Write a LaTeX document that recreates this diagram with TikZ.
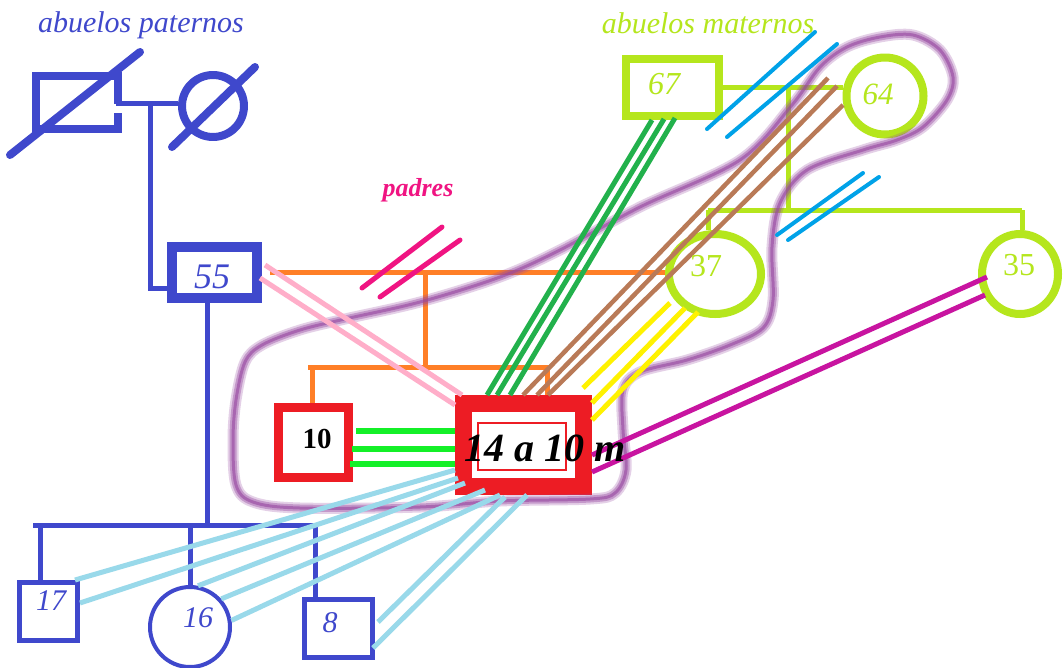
\documentclass[tikz,border=0pt]{standalone}
\usepackage{fontspec}
\setmainfont{Liberation Serif}
\usetikzlibrary{shapes.geometric,calc}
\definecolor{kin}{HTML}{3F48CC}
\definecolor{leaf}{HTML}{B5E61D}
\definecolor{tang}{HTML}{FF7F27}
\definecolor{brick}{HTML}{ED1C24}
\definecolor{neon}{RGB}{20,240,40}
\definecolor{forest}{HTML}{22B14C}
\definecolor{bark}{HTML}{B97A57}
\definecolor{blush}{HTML}{FFAEC9}
\definecolor{rosy}{RGB}{240,20,130}
\definecolor{plum}{RGB}{200,20,160}
\definecolor{pale}{HTML}{99D9EA}
\definecolor{azure}{HTML}{00A2E8}
\definecolor{sun}{HTML}{FFF200}
\definecolor{hazec}{RGB}{150,70,160}
\newcommand\pxsize[1]{\fontsize{#1pt}{#1pt}\selectfont}
\begin{document}
\begin{tikzpicture}[x=1pt,y=-1pt,line join=round,
  box/.style={draw, rectangle, inner sep=0pt, line join=miter},
  ring/.style={draw, circle, inner sep=0pt},
  oval/.style={draw, ellipse, inner sep=0pt},
  tie/.style={line width=5pt, line join=miter},
  bond/.style={line width=5pt},
  slashmark/.style={line width=5pt, line cap=round},
  lbl/.style={inner sep=0pt, outer sep=0pt},
]
\useasboundingbox (0,0) rectangle (1064,667);
\fill[white] (0,0) rectangle (1064,667);

% ---------- people ----------
% paternal grandparents
\node[rectangle, draw=none, inner sep=0pt, outer sep=0pt,
      minimum width=90pt, minimum height=61pt] (gpa) at (77,102.5) {};
\draw[kin, line width=8pt, line join=miter]
  ($(gpa.south east)+(-4,-20)$) -- ($(gpa.south east)+(-4,-4)$)
  -- ($(gpa.south west)+(4,-4)$) -- ($(gpa.north west)+(4,4)$)
  -- ($(gpa.north east)+(-4,4)$) -- ($(gpa.east)+(-4,1)$);
\node[ring, kin, line width=8pt, minimum size=62pt] (gma) at (213,106) {};

% father and his siblings
\node[box, kin, line width=10pt, minimum width=85pt, minimum height=51pt] (n55) at (214.5,272.5) {};
\node[box, kin, line width=5pt, minimum width=58pt, minimum height=58pt] (n17) at (48.5,611.5) {};
\node[ring, kin, line width=4pt, minimum size=80pt] (n16) at (190,627) {};
\node[box, kin, line width=5pt, minimum width=68pt, minimum height=58pt] (n8) at (338.5,628.5) {};

% children
\node[box, brick, line width=9pt, minimum width=70pt, minimum height=70pt] (n10) at (313.5,442.5) {};
\node[box, brick, line width=17pt, minimum width=120pt, minimum height=83pt] (n14) at (523.5,445) {};
\draw[brick, line width=1.2pt, line join=miter] ($(n14.center)+(-45.5,-22)$) rectangle ($(n14.center)+(42.5,25)$);

% maternal side
\node[box, leaf, line width=8pt, minimum width=93pt, minimum height=57pt] (n67) at (672.5,87.5) {};
\node[ring, leaf, line width=8pt, minimum size=77pt] (n64) at (885,96) {};
\node[oval, leaf, line width=8pt, minimum width=92pt, minimum height=80pt] (n37) at (715,274) {};
\node[oval, leaf, line width=8pt, minimum width=76pt, minimum height=80pt] (n35) at (1020,274) {};

% ---------- deceased marks ----------
\draw[kin, line width=8pt, line cap=round] ($(gpa.center)+(-67,52.5)$) -- ($(gpa.center)+(63,-50.5)$);
\draw[kin, line width=8pt, line cap=round] ($(gma.center)+(-41,41)$) -- ($(gma.center)+(42,-39)$);

% ---------- paternal family lines ----------
\coordinate (pm) at (150,103);
\coordinate (ps) at (207,525);
\coordinate (psL) at (33,525);
\coordinate (psR) at (318,525);
\draw[kin, tie] ($(gpa.east)+(-6,0.5)$) -- (pm) -- (pm -| gma.west);
\draw[kin, tie] (pm) |- ($(n55.west)+(0,15.5)$);
\draw[kin, tie] ($(n55.south)+(-7.5,0)$) -- (ps);
\draw[kin, tie] (psL) -- (psR);
\draw[kin, tie] ($(n17.north |- ps)+(-8.5,0)$) -- ($(n17.north)+(-8.5,0)$);
\draw[kin, tie] (n16.north |- ps) -- (n16.north);
\draw[kin, tie] ($(n8.north |- ps)+(-23.5,0)$) -- ($(n8.north)+(-23.5,0)$);

% ---------- maternal family lines ----------
\coordinate (mm) at (788,87.5);
\coordinate (ms) at (788,210);
\coordinate (msL) at (708,210);
\coordinate (msR) at (1022,210);
\draw[leaf, tie] (n67.east) -- (n67.east -| n64.west);
\draw[leaf, tie] (mm) -- (ms);
\draw[leaf, tie] (msL) -- (msR);
\draw[leaf, tie] (msL) -- (msL |- n37.north);
\draw[leaf, tie] (msR) -- (msR |- n35.north);

% ---------- parents' union ----------
\coordinate (fm) at (425,272.5);
\coordinate (fs) at (425,367);
\coordinate (fsL) at (308,367);
\coordinate (fsR) at (549.5,367);
\draw[tang, tie] ($(n55.east)+(8,0)$) -- (n55.east -| n37.west);
\draw[tang, tie] (fm) -- (fs);
\draw[tang, tie] (fsL) -- (fsR);
\draw[tang, tie] ($(n10.north |- fs)+(-1.5,0)$) -- ($(n10.north)+(-1.5,0)$);
\draw[tang, tie] ($(n14.north |- fs)+(23.5,0)$) -- ($(n14.north)+(23.5,0)$);

% ---------- close-bond outline ----------
\foreach \w/\o in {11/0.25, 7/0.4, 3/0.6}
  \draw[hazec, line width=\w pt, opacity=\o]
    plot[smooth cycle, tension=0.55] coordinates {
      (560,250) (640,207) (740,160) (792,105) (820,67) (847,47) (880,37)
      (913,35) (940,50) (953,77) (947,100) (923,127) (897,140) (863,150)
      (807,170) (780,203) (772,247) (773,300) (763,328) (730,345) (687,360)
      (640,372) (623,390) (623,430) (626,470) (615,493) (590,499) (500,501)
      (420,507) (300,508) (253,502) (236,485) (233,440) (236,400) (245,362)
      (262,345) (300,330) (345,319) (420,302) (500,277)};

% ---------- separation marks ----------
\draw[azure, slashmark, line width=4pt] (707,129) -- (815,32);
\draw[azure, slashmark, line width=4pt] (727,137) -- (837,44);
\draw[azure, slashmark, line width=4pt] (777,235) -- (863,173);
\draw[azure, slashmark, line width=4pt] (788,240) -- (879,177);
\draw[rosy, slashmark] (362,288) -- (442,227);
\draw[rosy, slashmark] (380,297) -- (460,240);

% ---------- relationship lines ----------
\draw[blush, bond] ($(n55.east)+(3,-7.5)$) -- ($(n14.north west)+(7,0)$);
\draw[blush, bond] ($(n55.east)+(-2,5.5)$) -- ($(n14.north west)+(0,10)$);

\draw[forest, bond] ($(n67.south)+(-20.5,0)$) -- ($(n14.north)+(-36.5,0)$);
\draw[forest, bond] ($(n67.south)+(-8.5,-1)$) -- ($(n14.north)+(-26.5,0)$);
\draw[forest, bond] ($(n67.south)+(2.5,-2)$) -- ($(n14.north)+(-13.5,0)$);

\draw[bark, bond, line width=4.5pt] ($(n64.west)+(-14.5,-18)$) -- ($(n14.north)+(-0.5,0)$);
\draw[bark, bond, line width=4.5pt] ($(n64.west)+(-5.5,-10)$) -- ($(n14.north)+(13.5,0)$);
\draw[bark, bond, line width=4.5pt] ($(n64.west)+(0.5,9)$) -- ($(n14.north)+(24.5,0)$);

\draw[sun, bond] ($(n37.center)+(-45,29)$) -- ($(n14.north east)+(-9,-7)$);
\draw[sun, bond] ($(n37.center)+(-30,34)$) -- ($(n14.north east)+(0,8)$);
\draw[sun, bond] ($(n37.center)+(-17,38)$) -- ($(n14.north east)+(0,25)$);

\draw[plum, bond] ($(n35.west)+(9,3)$) -- ($(n14.east)+(0,10)$);
\draw[plum, bond] ($(n35.west)+(7,21)$) -- ($(n14.east)+(0,27)$);

\draw[neon, bond, line width=5.5pt] ($(n10.east)+(3,-11.5)$) -- ($(n10.east -| n14.west)+(0,-11.5)$);
\draw[neon, bond, line width=5.5pt] ($(n10.east)+(-1,6.5)$) -- ($(n10.east -| n14.west)+(0,6.5)$);
\draw[neon, bond, line width=5.5pt] ($(n10.east)+(-3,21.5)$) -- ($(n10.east -| n14.west)+(0,21.5)$);

\draw[pale, bond] ($(n14.south west)+(0,-25)$) -- ($(n17.north east)+(-5,0)$);
\draw[pale, bond] ($(n14.south west)+(3,-17)$) -- ($(n17.east)+(0,-8.5)$);
\draw[pale, bond] ($(n14.south west)+(10,-12)$) -- (n16.79);
\draw[pale, bond] ($(n14.south west)+(30,-5)$) -- (n16.42);
\draw[pale, bond] ($(n14.south west)+(45,0)$) -- (n16.9);
\draw[pale, bond] ($(n14.south west)+(50,2)$) -- ($(n8.east)+(3,-6.5)$);
\draw[pale, bond] ($(n14.south west)+(72,0)$) -- ($(n8.east)+(-2,19.5)$);

% ---------- texts ----------
\node[lbl, text=kin, font=\pxsize{30}\itshape] (tpat) at (141,25) {abuelos paternos};
\node[lbl, text=leaf, font=\pxsize{30}\itshape] (tmat) at (708,23) {abuelos maternos};
\node[lbl, text=rosy, font=\pxsize{26}\bfseries\itshape] (tpad) at (418,190) {padres};

\node[lbl, text=kin, font=\pxsize{36}\itshape] (t55) at (212,277) {55};
\node[lbl, text=kin, font=\pxsize{30}\itshape] (t17) at (51,601) {17};
\node[lbl, text=kin, font=\pxsize{30}\itshape] (t16) at (198,618) {16};
\node[lbl, text=kin, font=\pxsize{30}\itshape] (t8) at (330,623) {8};
\node[lbl, text=black, font=\pxsize{29}\bfseries] (t10) at (317,439) {10};
\node[lbl, text=black, font=\pxsize{40}\bfseries\itshape] (t14) at (545.5,448.5) {14 a 10 m};
\node[lbl, text=leaf, font=\pxsize{32}\itshape] (t67) at (664,84) {67};
\node[lbl, text=leaf, font=\pxsize{31}\itshape] (t64) at (878,94) {64};
\node[lbl, text=leaf, font=\pxsize{32}] (t37) at (706,266) {37};
\node[lbl, text=leaf, font=\pxsize{32}] (t35) at (1019,265) {35};
\end{tikzpicture}
\end{document}
